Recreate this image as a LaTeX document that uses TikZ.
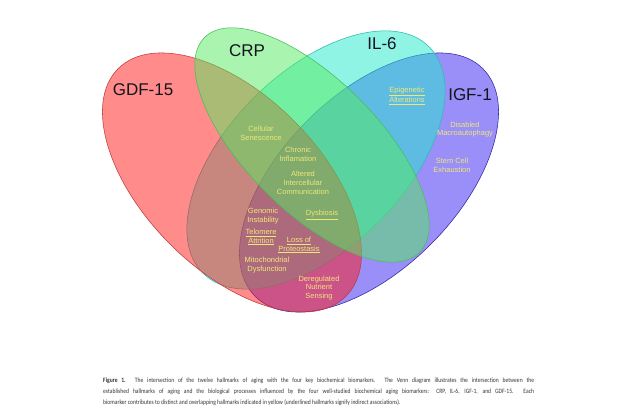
\documentclass[tikz,border=0pt]{standalone}
\usepackage{graphicx}
\usepackage{fontspec}
\setmainfont{Liberation Sans}
\newfontfamily\capfont{Carlito}
\definecolor{cRed}{RGB}{255,25,25}
\definecolor{cGreen}{RGB}{85,235,95}
\definecolor{cCyan}{RGB}{35,235,205}
\definecolor{cBlue}{RGB}{55,30,245}
\definecolor{oRed}{RGB}{190,60,60}
\definecolor{oGreen}{RGB}{70,190,90}
\definecolor{oCyan}{RGB}{40,190,170}
\definecolor{oBlue}{RGB}{50,40,160}
\definecolor{hall}{RGB}{238,232,120}
\definecolor{capgray}{RGB}{55,55,55}
\definecolor{setlabel}{RGB}{20,20,30}
\begin{document}
\begin{tikzpicture}[x=1pt,y=1pt,
  setshape/.style={fill opacity=0.5, line width=0.55pt},
  setname/.style={font=\fontsize{17}{17}\selectfont, text=setlabel, inner sep=0pt},
  hallmark/.style={font=\fontsize{7.5}{8.8}\selectfont, text=hall, align=center, inner sep=0pt},
  capline/.style={font=\capfont\fontsize{6.6}{7}\selectfont, text=capgray, anchor=base west, inner sep=0pt}
]
\fill[white] (0,0) rectangle (640,414);
\useasboundingbox (0,0) rectangle (640,414);

% ellipses (bottom to top: IGF-1, IL-6, GDF-15, CRP)
\draw[setshape, fill=cBlue, draw=oBlue, rotate around={45:(369,231.5)}]
  (369,231.5) ellipse [x radius=161pt, y radius=87.4pt];
\draw[setshape, fill=cCyan, draw=oCyan, rotate around={45:(316,254)}]
  (316,254) ellipse [x radius=160pt, y radius=88pt];
\draw[setshape, fill=cRed, draw=oRed, rotate around={-45:(232,231.5)}]
  (232,231.5) ellipse [x radius=161pt, y radius=87.4pt];
\draw[setshape, fill=cGreen, draw=oGreen, rotate around={-45:(312,269)}]
  (312,269) ellipse [x radius=152pt, y radius=66pt];

% set names
\node[setname] (gdf) at (143,324) {GDF-15};
\node[setname] (crp) at (247,363) {CRP};
\node[setname] (il6) at (382,370) {IL-6};
\node[setname] (igf) at (470,319) {IGF-1};

% hallmarks
\node[hallmark] (sen) at (261,281) {Cellular\\Senescence};
\node[hallmark] (inf) at (298,260) {Chronic\\Inflamation};
\node[hallmark] (alt) at (303,231) {Altered\\Intercellular\\Communication};
\node[hallmark] (gen) at (263,198) {Genomic\\Instability};
\node[hallmark] (dys) at (322,199) {\underline{Dysbiosis}};
\node[hallmark] (tel) at (261,177) {\underline{Telomere}\\\underline{Attrition}};
\node[hallmark] (pro) at (299,169) {\underline{Loss of}\\\underline{Proteostasis}};
\node[hallmark] (mit) at (267,149) {Mitochondrial\\Dysfunction};
\node[hallmark] (nut) at (319,126) {Deregulated\\Nutrient\\Sensing};
\node[hallmark] (epi) at (407,318) {\underline{Epigenetic}\\\underline{Alterations}};
\node[hallmark] (aut) at (465,284.5) {Disabled\\Macroautophagy};
\node[hallmark] (stem) at (452,248.5) {Stem Cell\\Exhaustion};

% caption
\node[capline] (cap1) at (103,31) {\scalebox{0.85}[1]{\makebox[507pt][s]{\textbf{Figure 1.} The intersection of the twelve hallmarks of aging with the four key biochemical biomarkers. The Venn diagram illustrates the intersection between the}}};
\node[capline] (cap2) at (103,20) {\scalebox{0.85}[1]{\makebox[507pt][s]{established hallmarks of aging and the biological processes influenced by the four well-studied biochemical aging biomarkers: CRP, IL-6, IGF-1, and GDF-15. Each}}};
\node[capline] (cap3) at (103,9) {\scalebox{0.85}[1]{biomarker contributes to distinct and overlapping hallmarks indicated in yellow (underlined hallmarks signify indirect associations).}};
\end{tikzpicture}
\end{document}
